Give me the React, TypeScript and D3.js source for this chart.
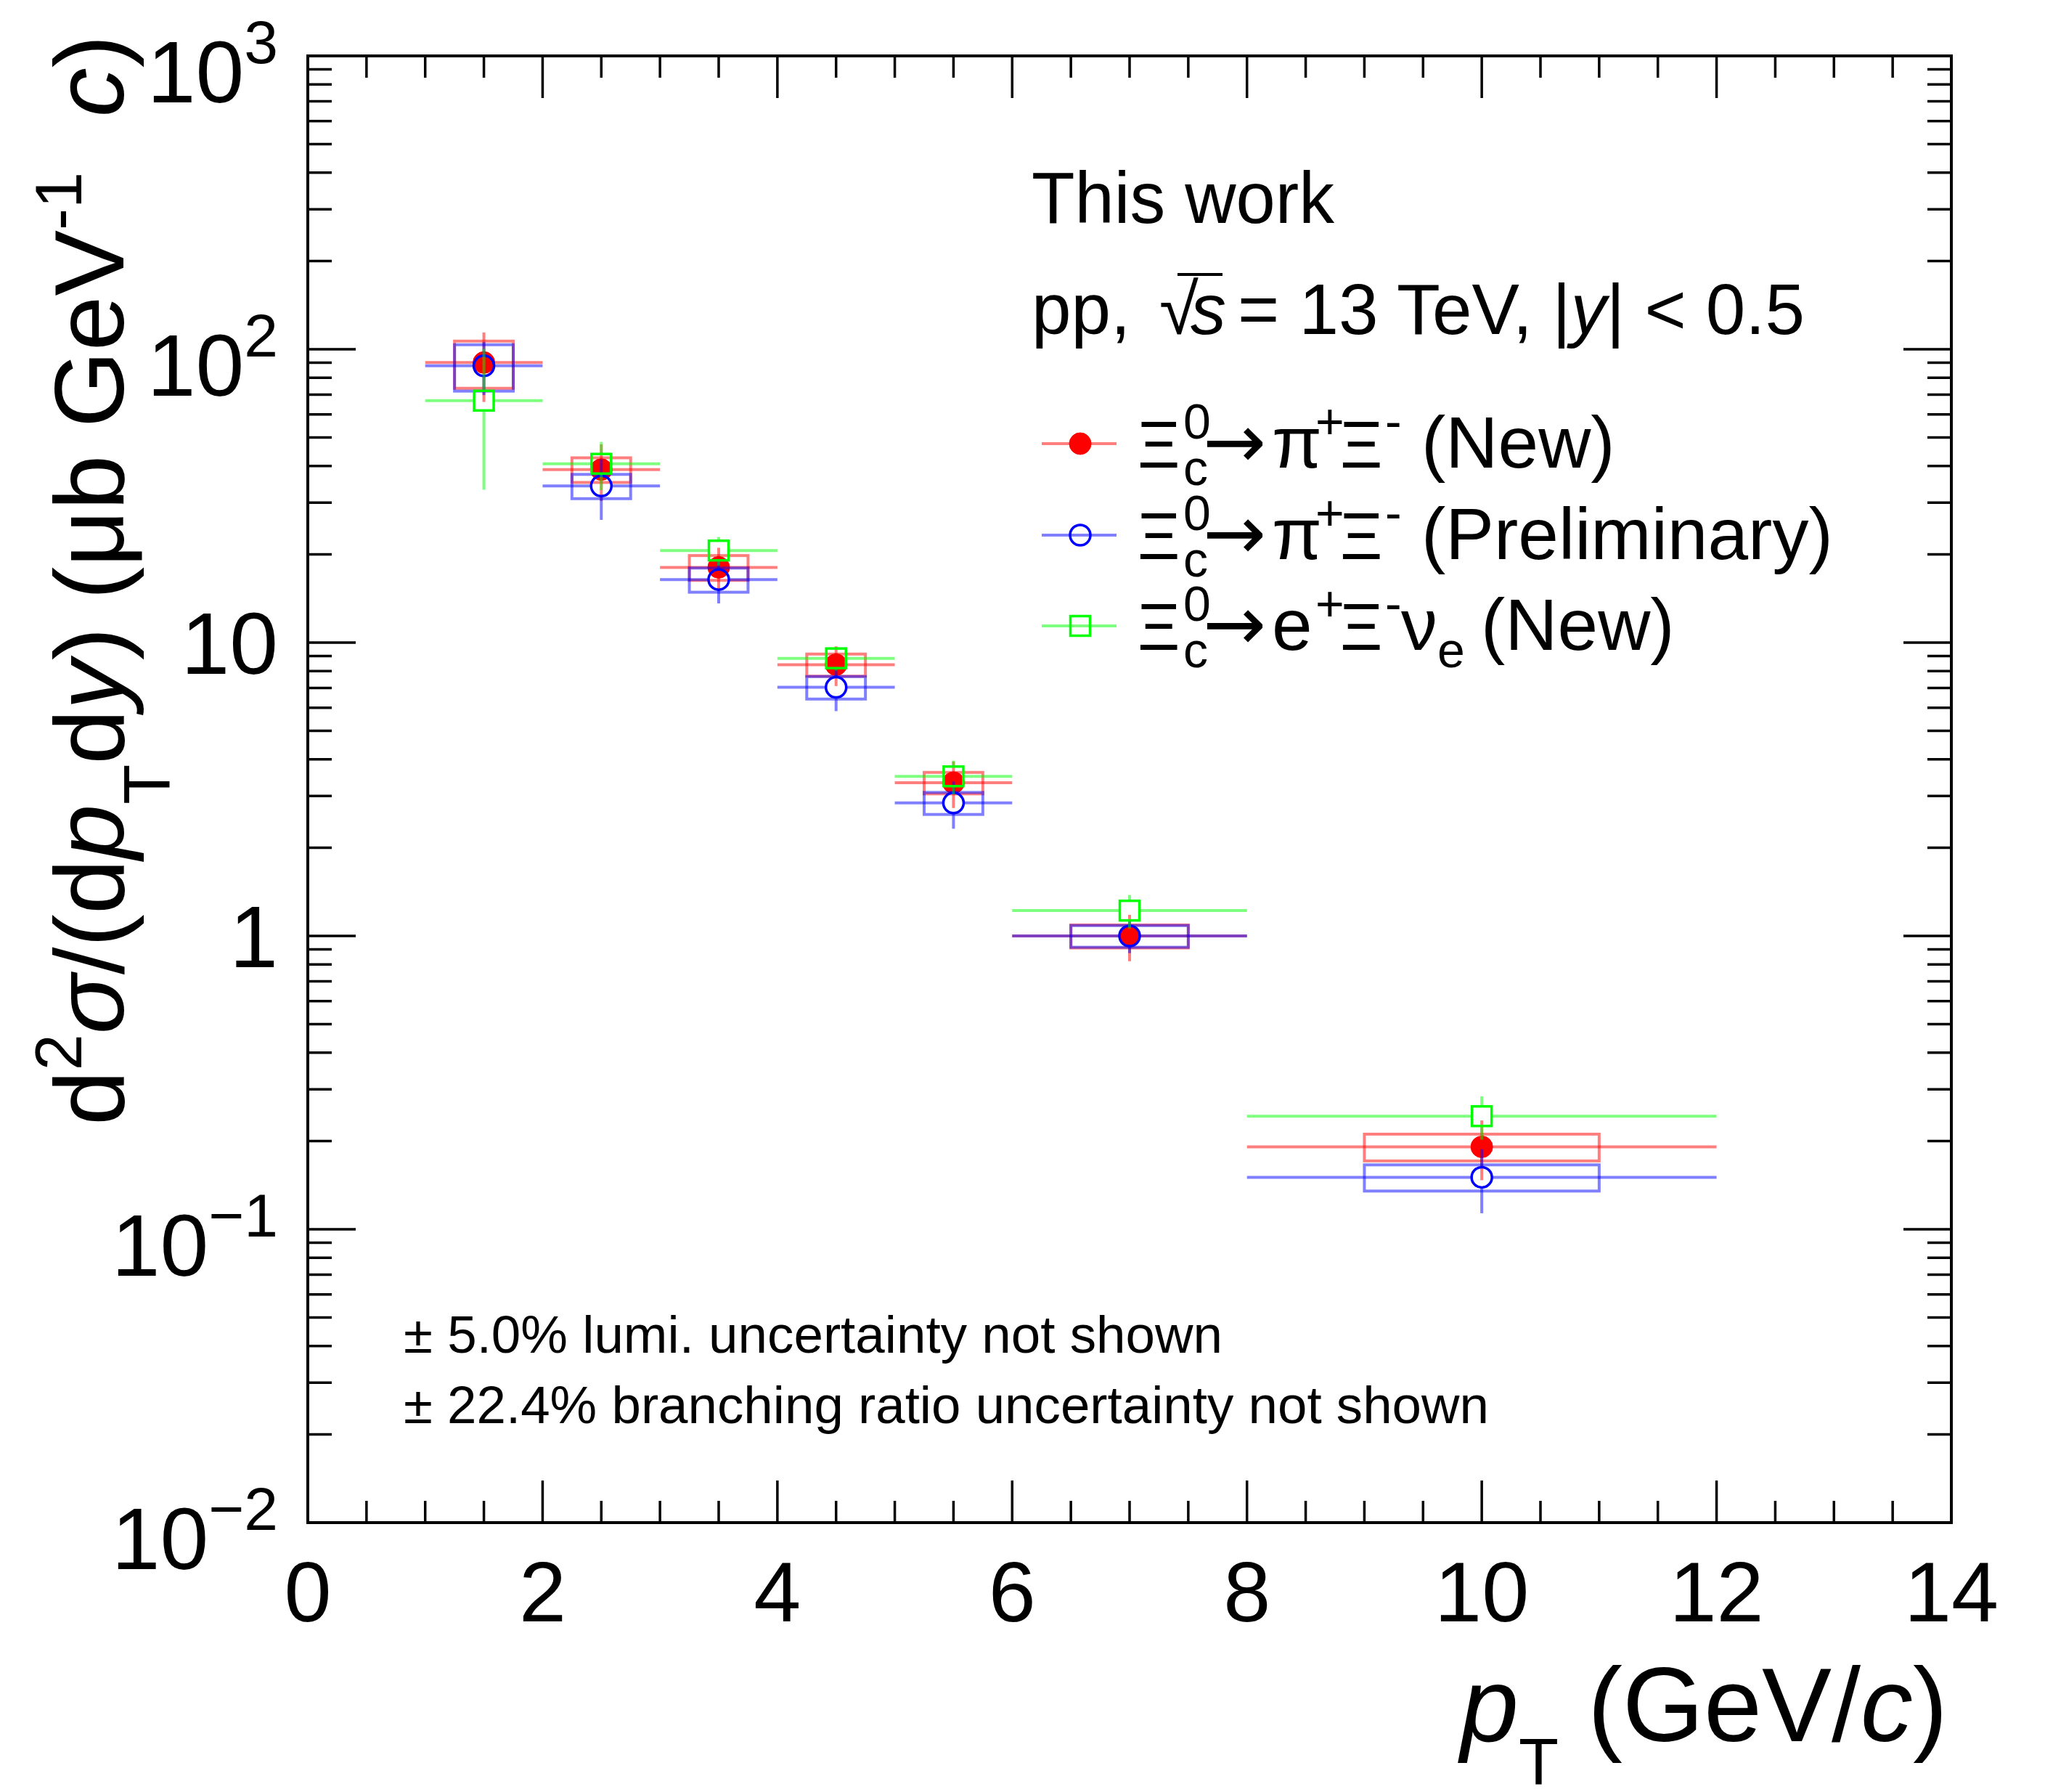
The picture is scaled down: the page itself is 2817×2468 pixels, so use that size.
import React, { useEffect, useRef } from "react";
import * as d3 from "d3";

// pT bins (GeV/c)
const ptCenter = [1.5, 2.5, 3.5, 4.5, 5.5, 7, 10];
const ptLow = [1, 2, 3, 4, 5, 6, 8];
const ptHigh = [2, 3, 4, 5, 6, 8, 12];

// Xi_c0 -> pi+ Xi- (New)
const hadNewVal = [90.1, 38.9, 18.05, 8.41, 3.33, 1.0, 0.191];
const hadNewStat = [24, 8.5, 3.0, 1.3, 0.6, 0.18, 0.044];
const hadNewSyst = [16.5, 3.75, 1.75, 0.73, 0.28, 0.09, 0.02];

// Xi_c0 -> pi+ Xi- (Preliminary)
const hadPrelVal = [87.8, 34.2, 16.4, 7.04, 2.84, 1.0, 0.1504];
const hadPrelStat = [18, 8.0, 2.8, 1.2, 0.52, 0.126, 0.037];
const hadPrelSyst = [15.8, 3.25, 1.55, 0.62, 0.245, 0.085, 0.0154];

// Xi_c0 -> e+ Xi- nu_e (New)
const semiVal = [66.8, 40.7, 20.6, 8.84, 3.5, 1.22, 0.243];
const semiStat = [33.6, 7.6, 2.3, 0.82, 0.46, 0.16, 0.041];

const xTicks = [0, 2, 4, 6, 8, 10, 12, 14];
const yTickVals = [0.01, 0.1, 1, 10, 100, 1000];
const yTickBase = ["10", "10", "1", "10", "10", "10"];
const yTickExp = ["\u22122", "\u22121", "", "", "2", "3"];

const W = 2817;
const H = 2468;
const FONT = "'Liberation Sans', Arial, Helvetica, sans-serif";

// text made of pieces, rise = shift above baseline
const addText = (g, x, y, pieces, size, anchor = "start") => {
  const t = g
    .append("text")
    .attr("x", x)
    .attr("y", y)
    .attr("font-family", FONT)
    .attr("font-size", size)
    .attr("text-anchor", anchor)
    .attr("fill", "#000")
    .style("white-space", "pre");
  let prev = 0;
  pieces.forEach((p) => {
    const s = t.append("tspan").text(p.t);
    const rise = p.rise || 0;
    if (rise !== prev) s.attr("dy", -(rise - prev));
    prev = rise;
    if (p.x != null) s.attr("x", p.x);
    if (p.size) s.attr("font-size", p.size);
    if (p.italic) s.attr("font-style", "italic");
    if (p.family) s.attr("font-family", p.family);
  });
  return t;
};

const App = () => {
  const ref = useRef(null);

  useEffect(() => {
    const svg = d3.select(ref.current);
    svg.selectAll("*").remove();

    const x = d3.scaleLinear().domain([0, 14]).range([424, 2688]);
    const y = d3.scaleLog().domain([0.01, 1000]).range([2097, 77]);
    const left = 424, right = 2688, top = 77, bottom = 2097;

    svg.append("rect").attr("width", W).attr("height", H).attr("fill", "#fff");

    // ticks
    const axes = svg.append("g").attr("stroke", "#000").attr("stroke-width", 3.5);
    const xMinor = d3.range(0, 14.001, 0.5).filter((v) => v % 2 !== 0);
    const tick = (x1, y1, x2, y2) =>
      axes.append("line").attr("x1", x1).attr("y1", y1).attr("x2", x2).attr("y2", y2);
    xTicks.forEach((v) => {
      tick(x(v), bottom, x(v), bottom - 58);
      tick(x(v), top, x(v), top + 58);
    });
    xMinor.forEach((v) => {
      tick(x(v), bottom, x(v), bottom - 30);
      tick(x(v), top, x(v), top + 30);
    });
    yTickVals.forEach((v) => {
      tick(left, y(v), left + 66, y(v));
      tick(right, y(v), right - 66, y(v));
    });
    d3.range(-2, 3).forEach((d) => {
      d3.range(2, 10).forEach((k) => {
        const v = k * Math.pow(10, d);
        tick(left, y(v), left + 33, y(v));
        tick(right, y(v), right - 33, y(v));
      });
    });
    svg
      .append("rect")
      .attr("x", left)
      .attr("y", top)
      .attr("width", right - left)
      .attr("height", bottom - top)
      .attr("fill", "none")
      .attr("stroke", "#000")
      .attr("stroke-width", 4);

    // tick labels
    const lab = svg.append("g");
    xTicks.forEach((v) => addText(lab, x(v), 2233, [{ t: String(v) }], 117, "middle"));
    yTickVals.forEach((v, i) => {
      const hasExp = yTickExp[i] !== "";
      addText(
        lab,
        383,
        y(v) + (hasExp ? 64 : 43),
        hasExp
          ? [{ t: yTickBase[i] }, { t: yTickExp[i], rise: 54, size: 84 }]
          : [{ t: yTickBase[i] }],
        120,
        "end"
      );
    });

    // axis titles
    addText(
      svg,
      2683,
      2398,
      [
        { t: "p", italic: true },
        { t: "T", rise: -60, size: 90 },
        { t: " (GeV/" },
        { t: "c", italic: true },
        { t: ")" },
      ],
      144,
      "end"
    );
    const yt = svg.append("g").attr("transform", "translate(170,48) rotate(-90)");
    addText(
      yt,
      0,
      0,
      [
        { t: "d" },
        { t: "2", rise: 58, size: 90 },
        { t: "\u03c3", italic: true },
        { t: "/(d" },
        { t: "p", italic: true },
        { t: "T", rise: -64, size: 90 },
        { t: "d" },
        { t: "y", italic: true },
        { t: ") (\u03bcb GeV" },
        { t: "-1", rise: 58, size: 90 },
        { t: "  " },
        { t: "c", italic: true },
        { t: ")" },
      ],
      136,
      "end"
    );

    // data
    const drawMarker = (g, pts, color, marker) => {
      if (marker === "square") {
        g.selectAll("rect.mk")
          .data(pts)
          .join("rect")
          .attr("class", "mk")
          .attr("x", (p) => p[0] - 13.5)
          .attr("y", (p) => p[1] - 13.5)
          .attr("width", 27)
          .attr("height", 27)
          .attr("fill", "none")
          .attr("stroke", color)
          .attr("stroke-width", 3.5);
      } else {
        g.selectAll("circle.mk")
          .data(pts)
          .join("circle")
          .attr("class", "mk")
          .attr("cx", (p) => p[0])
          .attr("cy", (p) => p[1])
          .attr("r", marker === "full" ? 15 : 14)
          .attr("fill", marker === "full" ? color : "none")
          .attr("stroke", color)
          .attr("stroke-width", marker === "full" ? 1 : 3.5);
      }
    };

    const drawSeries = (vals, stat, syst, color, marker) => {
      const g = svg.append("g");
      const c = d3.rgb(color);
      const faded = `rgba(${c.r},${c.g},${c.b},0.5)`;
      if (syst) {
        g.selectAll("rect.sys")
          .data(vals)
          .join("rect")
          .attr("class", "sys")
          .attr("x", (d, i) => x(ptCenter[i] - 0.25 * (ptHigh[i] - ptLow[i])))
          .attr("width", (d, i) => x(0.5 * (ptHigh[i] - ptLow[i])) - x(0))
          .attr("y", (d, i) => y(d + syst[i]))
          .attr("height", (d, i) => y(d - syst[i]) - y(d + syst[i]))
          .attr("fill", "none")
          .attr("stroke", faded)
          .attr("stroke-width", 4);
      }
      const gap = marker === "full" ? 0 : 15;
      const segs = [];
      vals.forEach((v, i) => {
        const cx = x(ptCenter[i]);
        const cy = y(v);
        segs.push([x(ptLow[i]), cy, cx - gap, cy]);
        segs.push([cx + gap, cy, x(ptHigh[i]), cy]);
        segs.push([cx, y(v + stat[i]), cx, cy - gap]);
        segs.push([cx, cy + gap, cx, y(v - stat[i])]);
      });
      g.selectAll("line")
        .data(segs.filter((s) => s[3] >= s[1] && s[2] >= s[0]))
        .join("line")
        .attr("x1", (s) => s[0])
        .attr("y1", (s) => s[1])
        .attr("x2", (s) => s[2])
        .attr("y2", (s) => s[3])
        .attr("stroke", faded)
        .attr("stroke-width", 4);
      drawMarker(g, vals.map((v, i) => [x(ptCenter[i]), y(v)]), color, marker);
    };

    drawSeries(hadNewVal, hadNewStat, hadNewSyst, "#ff0000", "full");
    drawSeries(hadPrelVal, hadPrelStat, hadPrelSyst, "#0000ff", "open");
    drawSeries(semiVal, semiStat, null, "#00ff00", "square");

    // header text
    addText(svg, 1421, 307, [{ t: "This work" }], 100)
      .attr("textLength", 417)
      .attr("lengthAdjust", "spacingAndGlyphs");
    addText(
      svg,
      1421,
      460,
      [
        { t: "pp,", x: 1421 },
        { t: "\u221a", x: 1597 },
        { t: "s", x: 1640, italic: true },
        { t: "= 13 TeV, |", x: 1705 },
        { t: "y", italic: true },
        { t: "| < 0.5" },
      ],
      98
    );
    svg
      .append("line")
      .attr("x1", 1622)
      .attr("x2", 1684)
      .attr("y1", 378)
      .attr("y2", 378)
      .attr("stroke", "#000")
      .attr("stroke-width", 4);

    // legend
    const legRows = [611, 737, 862];
    const legColors = ["#ff0000", "#0000ff", "#00ff00"];
    const legMarkers = ["full", "open", "square"];
    const ARROW = "'DejaVu Sans', sans-serif";
    const xiPart = [
      { t: "\u039e", x: 1567, size: 90 },
      { t: "0", x: 1630, rise: 40, size: 68 },
      { t: "c", x: 1630, rise: -24, size: 68 },
      { t: "\u2192", x: 1657, family: ARROW, size: 104 },
    ];
    const piPart = [
      { t: "\u03c0", x: 1752 },
      { t: "+", x: 1812, rise: 40, size: 68 },
      { t: "\u039e", x: 1846, size: 90 },
      { t: "-", x: 1908, rise: 40, size: 68 },
    ];
    const legLabels = [
      [...xiPart, ...piPart, { t: "(New)", x: 1958 }],
      [...xiPart, ...piPart, { t: "(Preliminary)", x: 1958 }],
      [
        ...xiPart,
        { t: "e", x: 1752 },
        { t: "+", x: 1812, rise: 40, size: 68 },
        { t: "\u039e", x: 1846, size: 90 },
        { t: "-", x: 1908, rise: 40, size: 68 },
        { t: "\u03bd", x: 1930 },
        { t: "e", rise: -24, size: 68 },
        { t: "(New)", x: 2040 },
      ],
    ];
    const leg = svg.append("g");
    legRows.forEach((ry, i) => {
      const c = d3.rgb(legColors[i]);
      leg
        .append("line")
        .attr("x1", 1435)
        .attr("x2", 1538)
        .attr("y1", ry)
        .attr("y2", ry)
        .attr("stroke", `rgba(${c.r},${c.g},${c.b},0.5)`)
        .attr("stroke-width", 4);
      drawMarker(leg.append("g"), [[1488, ry]], legColors[i], legMarkers[i]);
      addText(leg, 1567, ry + 33, legLabels[i], 100);
    });

    // notes
    addText(svg, 556, 1863, [{ t: "\u00b1 5.0% lumi. uncertainty not shown" }], 72)
      .attr("textLength", 1128)
      .attr("lengthAdjust", "spacingAndGlyphs");
    addText(svg, 556, 1960, [{ t: "\u00b1 22.4% branching ratio uncertainty not shown" }], 72)
      .attr("textLength", 1495)
      .attr("lengthAdjust", "spacingAndGlyphs");
  }, []);

  return (
    <svg
      ref={ref}
      width={W}
      height={H}
      style={{ position: "absolute", left: 0, top: 0, display: "block" }}
    />
  );
};

export default App;
